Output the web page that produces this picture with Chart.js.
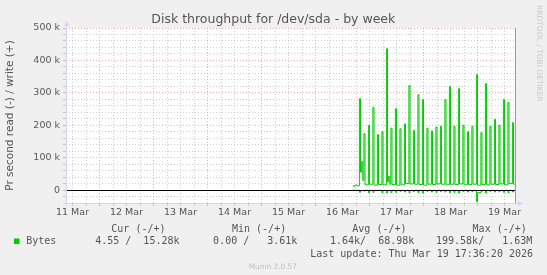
<!DOCTYPE html>
<html>
<head>
<meta charset="utf-8">
<script src="https://cdn.jsdelivr.net/npm/chart.js@4.4.1/dist/chart.umd.min.js"></script>
<style>
html,body{margin:0;padding:0;background:#f0f0f0;}
canvas{display:block;}
</style>
</head>
<body>
<canvas id="c" width="547" height="275"></canvas>
<script>
// ---- data (hours since 11 Mar 00:00) ----
const dayLabels = ['11 Mar','12 Mar','13 Mar','14 Mar','15 Mar','16 Mar','17 Mar','18 Mar','19 Mar'];
const dayNoonHours = [12,36,60,84,108,132,156,180,204];
const yTickValues = [0,100000,200000,300000,400000,500000];
const yTickLabels = ['0','100 k','200 k','300 k','400 k','500 k'];

const timeHours = [
 136.5,137.5,138.5,
 139.5,140,140.5,141,
 141.5,142, 143.5,144, 145.5,146, 147.5,148, 149.5,150,
 151.5,152,152.5,153,
 153.5,154, 155.5,156, 157.5,158, 159.5,160, 161.5,162,
 163.5,164, 165.5,166, 167.5,168, 169.5,170, 171.5,172,
 173.5,174, 175.5,176, 177.5,178, 179.5,180, 181.5,182,
 183.5,184, 185.5,186, 187.5,188, 189.5,190, 191.5,192,
 193.5,194, 195.5,196, 197.5,198, 199.5,200, 201.5,202,
 203.5,204, 205.5,206, 207.5,208, 209.1
];
const writeBytes = [
 12000,15000,13000,
 282000,55000,88000,30000,
 174000,16000, 199000,18000, 255000,15000, 171000,17000, 180000,16000,
 436000,25000,43000,18000,
 191000,17000, 251000,15000, 189000,16000, 204000,20000, 322000,19000,
 184000,18000, 294000,17000, 279000,15000, 191000,18000, 182000,17000,
 194000,19000, 197000,18000, 279000,16000, 319000,18000, 196000,17000,
 313000,19000, 200000,16000, 180000,17000, 196000,18000, 356000,15000,
 177000,17000, 328000,16000, 196000,18000, 218000,17000, 200000,19000,
 279000,16000, 270000,20000, 208000,18000, 15280
];
const readBytes = [
 -500,-800,-600,
 -7000,-1500,-2000,-1000,
 -3000,-800, -8000,-1000, -7000,-800, -2000,-900, -8000,-1000,
 -9000,-1500,-2000,-1000,
 -8000,-900, -7000,-800, -4000,-1000, -6000,-900, -8000,-1000,
 -5000,-800, -7000,-900, -9000,-1000, -4000,-800, -6000,-900,
 -7000,-1000, -5000,-800, -6000,-900, -8000,-1000, -7000,-900,
 -9000,-1000, -4000,-800, -6000,-900, -5000,-1000, -36000,-8000,
 -5000,-900, -9000,-1000, -4000,-800, -6000,-900, -5000,-1000,
 -7000,-800, -8000,-900, -6000,-1000, -5
];

const legendHeaders = ['Cur (-/+)','Min (-/+)','Avg (-/+)','Max (-/+)'];
const legendValues = ['4.55 /  15.28k','0.00 /   3.61k','1.64k/  68.98k','199.58k/   1.63M'];
const seriesName = 'Bytes';
const lastUpdate = 'Last update: Thu Mar 19 17:36:20 2026';
const titleText = 'Disk throughput for /dev/sda - by week';
const yAxisTitle = 'Pr second read (-) / write (+)';

// ---- layout ----
const W = 547, H = 275;
const plotLeft = 66, plotRight = 516, plotTop = 28, plotBottom = 203;
const SANS = '"DejaVu Sans", sans-serif';
const MONO = '"DejaVu Sans Mono", monospace';
const FONT_COLOR = '#555';
const AXIS_COLOR = '#cfd6f8';
const GREEN = '#00cc00';

const muninPlugin = {
  id: 'munin',
  beforeDraw(chart) {
    const {ctx, chartArea: a} = chart;
    ctx.save();
    ctx.fillStyle = '#f0f0f0';
    ctx.fillRect(0, 0, W, H);
    ctx.fillStyle = '#ffffff';
    ctx.fillRect(a.left, a.top, a.right - a.left, a.bottom - a.top);
    ctx.restore();
  },
  afterDatasetsDraw(chart) {
    const {ctx, chartArea: a, scales} = chart;
    const y0 = Math.round(scales.y.getPixelForValue(0)) + 0.5;
    ctx.save();
    // zero rule
    ctx.strokeStyle = '#000';
    ctx.lineWidth = 1;
    ctx.beginPath(); ctx.moveTo(a.left, y0); ctx.lineTo(a.right, y0); ctx.stroke();
    // right boundary rule
    ctx.strokeStyle = '#999';
    ctx.beginPath(); ctx.moveTo(a.right - 0.5, a.top); ctx.lineTo(a.right - 0.5, a.bottom); ctx.stroke();
    // axes
    ctx.strokeStyle = AXIS_COLOR;
    ctx.beginPath(); ctx.moveTo(a.left + 0.5, a.bottom + 3); ctx.lineTo(a.left + 0.5, a.top - 5); ctx.stroke();
    ctx.beginPath(); ctx.moveTo(a.left - 3, a.bottom + 0.5); ctx.lineTo(a.right + 3, a.bottom + 0.5); ctx.stroke();
    ctx.fillStyle = AXIS_COLOR;
    ctx.beginPath();
    ctx.moveTo(a.left - 2, a.top - 2); ctx.lineTo(a.left + 3, a.top - 2); ctx.lineTo(a.left + 0.5, a.top - 7); ctx.closePath(); ctx.fill();
    ctx.beginPath();
    ctx.moveTo(a.right + 2, a.bottom - 2); ctx.lineTo(a.right + 2, a.bottom + 3); ctx.lineTo(a.right + 7, a.bottom + 0.5); ctx.closePath(); ctx.fill();
    ctx.restore();
  },
  afterDraw(chart) {
    const {ctx} = chart;
    ctx.save();
    ctx.textBaseline = 'middle';
    // title
    ctx.fillStyle = FONT_COLOR;
    ctx.font = '12.5px ' + SANS;
    ctx.textAlign = 'center';
    ctx.fillText(titleText, 273.3, 20);
    // rrdtool credit
    ctx.save();
    ctx.translate(538.5, 5);
    ctx.rotate(Math.PI / 2);
    ctx.fillStyle = '#c8c8c8';
    ctx.font = '7.5px ' + SANS;
    ctx.textAlign = 'left';
    ctx.fillText('RRDTOOL / TOBI OETIKER', 0, 0);
    ctx.restore();
    // legend
    ctx.font = '10px ' + MONO;
    ctx.textAlign = 'left';
    ctx.fillStyle = FONT_COLOR;
    const hx = [111.3, 232, 352.3, 472.6];
    legendHeaders.forEach((t, i) => ctx.fillText(t, hx[i], 229.5));
    const vx = [95.2, 213.1, 330, 436];
    legendValues.forEach((t, i) => ctx.fillText(t, vx[i], 241.5));
    ctx.fillText(seriesName, 26.2, 241.5);
    ctx.textAlign = 'right';
    ctx.fillText(lastUpdate, 533, 254.3);
    ctx.fillStyle = GREEN;
    ctx.fillRect(14, 238.5, 5.5, 5.5);
    ctx.fillStyle = '#c0c0c0';
    ctx.font = '7.4px ' + SANS;
    ctx.textAlign = 'center';
    ctx.fillText('Munin 2.0.57', 272.8, 267.5);
    ctx.restore();
  }
};

const gridColor = (isMajor) => isMajor ? 'rgba(235,110,110,0.55)' : 'rgba(170,170,170,0.55)';

new Chart(document.getElementById('c').getContext('2d'), {
  type: 'line',
  data: {
    datasets: [
      { label: 'write', data: timeHours.map((t, i) => ({x: t, y: writeBytes[i]})),
        borderColor: GREEN, borderWidth: 1, pointRadius: 0, stepped: true, fill: false },
      { label: 'read', data: timeHours.map((t, i) => ({x: t, y: readBytes[i]})),
        borderColor: GREEN, borderWidth: 1, pointRadius: 0, stepped: true, fill: false }
    ]
  },
  options: {
    responsive: false,
    animation: false,
    devicePixelRatio: 1,
    layout: { padding: { left: 0, right: W - plotRight, top: plotTop, bottom: 0 } },
    plugins: { legend: { display: false }, tooltip: { enabled: false }, title: { display: false } },
    scales: {
      x: {
        type: 'linear', min: 9.1, max: 209.1,
        afterBuildTicks: (s) => {
          const t = [];
          for (let h = 12; h <= 204; h += 6) t.push({ value: h });
          s.ticks = t;
        },
        afterFit: (s) => { s.height = H - plotBottom; },
        ticks: {
          autoSkip: false, maxRotation: 0, minRotation: 0, padding: 1,
          color: FONT_COLOR, font: { family: SANS, size: 9.5 },
          callback: (v) => { const i = dayNoonHours.indexOf(v); return i >= 0 ? dayLabels[i] : ''; }
        },
        grid: {
          color: (c) => gridColor(c.tick && c.tick.value % 24 === 0),
          lineWidth: 1, tickLength: 3, drawTicks: true
        },
        border: { display: false, dash: [1, 2] }
      },
      y: {
        min: -40000, max: 500000,
        afterFit: (s) => { s.width = plotLeft; },
        ticks: {
          stepSize: 20000, maxTicksLimit: 1000, autoSkip: false, padding: 3,
          color: FONT_COLOR, font: { family: SANS, size: 9.5 },
          callback: (v) => { const i = yTickValues.indexOf(Math.round(v)); return i >= 0 ? yTickLabels[i] : ''; }
        },
        grid: {
          color: (c) => gridColor(c.tick && Math.round(c.tick.value) % 100000 === 0),
          lineWidth: 1, tickLength: 3, drawTicks: true
        },
        border: { display: false, dash: [1, 2] },
        title: {
          display: true, text: yAxisTitle, color: FONT_COLOR,
          font: { family: SANS, size: 10.5 }, padding: { top: 4, bottom: 0 }
        }
      }
    }
  },
  plugins: [muninPlugin]
});
</script>
</body>
</html>
